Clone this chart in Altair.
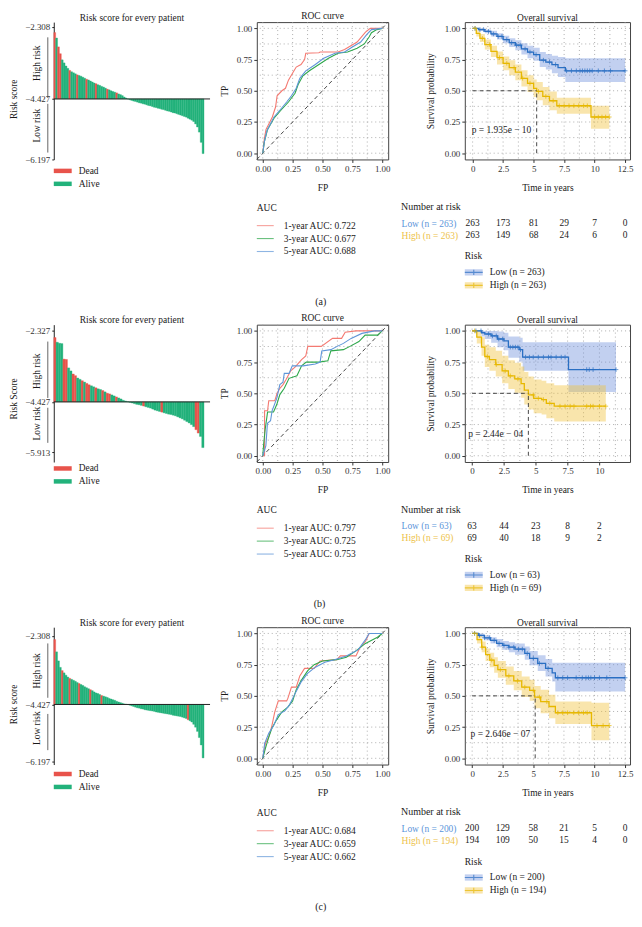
import altair as alt
import pandas as pd

# ------------------------------------------------------------------ style
FONT = "Liberation Serif"
TXT = "#1a1a1a"
RED = "#E8534B"
GREEN = "#22B27B"
ROC_COLORS = ["#F47A72", "#2EA84B", "#5F96D8"]
BLUE = "#2A6FC3"
GOLD = "#E7B800"
BLUE_BAND = "#6E8EDC"
GOLD_BAND = "#F0C23A"
LOW_TXT = "#5B95DA"
HIGH_TXT = "#EDC24A"
FS = 9.5

W1, W2, W3 = 157, 132, 166
H = 138
L1, L2, L3 = 46, 38, 64

GRID01 = [0, 0.125, 0.25, 0.375, 0.5, 0.625, 0.75, 0.875, 1.0]
SURV_XGRID = [0, 1.25, 2.5, 3.75, 5, 6.25, 7.5, 8.75, 10, 11.25, 12.5]
PROB_TICKS = [0, 0.25, 0.5, 0.75, 1.0]

# ------------------------------------------------------------------ data (a)
risk_a = [-2.48, -2.64, -2.90, -3.10, -3.28, -3.37, -3.46, -3.53, -3.59, -3.63,
          -3.66, -3.69, -3.72, -3.74, -3.76, -3.79, -3.82, -3.85, -3.87, -3.90,
          -3.93, -3.96, -3.98, -4.01, -4.03, -4.06, -4.08, -4.11, -4.14, -4.16,
          -4.19, -4.21, -4.23, -4.25, -4.28, -4.30, -4.33, -4.37, -4.40, -4.43,
          -4.45, -4.47, -4.49, -4.50, -4.52, -4.54, -4.55, -4.57, -4.58, -4.60,
          -4.62, -4.63, -4.65, -4.67, -4.68, -4.70, -4.71, -4.73, -4.74, -4.76,
          -4.78, -4.79, -4.81, -4.83, -4.84, -4.86, -4.88, -4.90, -4.92, -4.94,
          -4.96, -4.99, -5.02, -5.05, -5.09, -5.16, -5.25, -5.40, -5.70, -6.03]
dead_a = [0, 2, 3, 8, 12, 17, 22, 28, 33]
risk_ticks_a = [-2.308, -4.427, -6.197]

roc_a = [
    ([0, 0.013, 0.027, 0.054, 0.08, 0.107, 0.12, 0.16, 0.19, 0.215, 0.255, 0.28, 0.32, 0.35, 0.36, 0.47, 0.48, 0.63, 0.685, 0.79, 0.86, 0.90, 1.0],
     [0, 0.115, 0.19, 0.24, 0.29, 0.37, 0.46, 0.50, 0.52, 0.585, 0.65, 0.69, 0.71, 0.75, 0.80, 0.805, 0.81, 0.81, 0.83, 0.89, 0.97, 1.0, 1.0]),
    ([0, 0.013, 0.04, 0.094, 0.148, 0.215, 0.27, 0.296, 0.336, 0.39, 0.47, 0.55, 0.63, 0.71, 0.79, 0.85, 0.89, 0.91, 0.955, 1.0],
     [0, 0.09, 0.19, 0.28, 0.34, 0.41, 0.48, 0.55, 0.62, 0.66, 0.71, 0.76, 0.80, 0.81, 0.84, 0.875, 0.93, 0.965, 0.99, 1.0]),
    ([0, 0.013, 0.035, 0.094, 0.148, 0.20, 0.24, 0.28, 0.31, 0.36, 0.44, 0.51, 0.605, 0.685, 0.75, 0.82, 0.87, 0.91, 1.0],
     [0, 0.09, 0.18, 0.29, 0.35, 0.41, 0.46, 0.52, 0.60, 0.66, 0.71, 0.76, 0.80, 0.81, 0.85, 0.89, 0.95, 0.99, 1.0]),
]
auc_a = [0.722, 0.677, 0.688]

km_a_low = dict(
    t=[0, 0.5, 1.0, 1.5, 2.0, 2.5, 3.0, 3.5, 4.0, 4.5, 5.0, 5.5, 6.0, 6.5, 7.0, 7.6, 12.5],
    s=[1.0, 0.99, 0.975, 0.955, 0.935, 0.91, 0.885, 0.865, 0.835, 0.81, 0.79, 0.745, 0.73, 0.71, 0.685, 0.66, 0.66],
    lo=[1.0, 0.98, 0.96, 0.935, 0.91, 0.88, 0.85, 0.825, 0.79, 0.76, 0.74, 0.69, 0.67, 0.64, 0.61, 0.57, 0.57],
    hi=[1.0, 1.0, 0.99, 0.98, 0.96, 0.94, 0.92, 0.905, 0.88, 0.86, 0.845, 0.81, 0.795, 0.78, 0.77, 0.76, 0.76],
    cens=[0.2, 0.6, 0.9, 1.3, 1.7, 2.1, 2.4, 2.8, 3.2, 3.6, 3.9, 4.3, 4.7, 5.2, 5.8, 6.3, 6.8, 7.7, 8.1,
          8.5, 8.8, 9.0, 9.2, 9.4, 9.6, 9.8, 10.3, 10.8, 11.3, 12.5],
)
km_a_high = dict(
    t=[0, 0.3, 0.6, 1.0, 1.5, 2.0, 2.5, 3.0, 3.5, 4.0, 4.5, 5.0, 5.25, 5.75, 6.3, 6.9, 9.7, 11.2],
    s=[1.0, 0.96, 0.92, 0.87, 0.815, 0.765, 0.72, 0.685, 0.65, 0.60, 0.56, 0.52, 0.495, 0.455, 0.42, 0.38, 0.29, 0.29],
    lo=[1.0, 0.935, 0.89, 0.83, 0.77, 0.71, 0.665, 0.625, 0.585, 0.535, 0.49, 0.45, 0.425, 0.385, 0.345, 0.315, 0.195, 0.195],
    hi=[1.0, 0.985, 0.955, 0.91, 0.86, 0.815, 0.775, 0.745, 0.71, 0.665, 0.625, 0.59, 0.57, 0.53, 0.495, 0.445, 0.38, 0.38],
    cens=[0.2, 0.8, 1.4, 2.2, 2.8, 3.4, 4.1, 4.7, 5.4, 6.0, 6.6, 7.1, 7.5, 7.9, 8.3, 8.7, 9.1, 9.4,
          10.0, 10.3, 10.6, 10.9, 11.2],
)
risk_times_a = [0, 2.5, 5, 7.5, 10, 12.5]
at_risk_a_low = [263, 173, 81, 29, 7, 0]
at_risk_a_high = [263, 149, 68, 24, 6, 0]
n_a = (263, 263)

# ------------------------------------------------------------------ data (b)
risk_b = [-2.52, -2.66, -2.69, -2.70, -3.16, -3.17, -3.42, -3.51, -3.60, -3.65,
          -3.72, -3.76, -3.80, -3.84, -3.88, -3.92, -3.95, -3.98, -4.01, -4.04,
          -4.06, -4.09, -4.13, -4.17, -4.19, -4.22, -4.25, -4.28, -4.31, -4.34,
          -4.38, -4.40, -4.42, -4.44, -4.46, -4.48, -4.50, -4.51, -4.53, -4.55,
          -4.57, -4.59, -4.61, -4.64, -4.67, -4.69, -4.71, -4.73, -4.75, -4.77,
          -4.79, -4.80, -4.82, -4.84, -4.87, -4.90, -4.93, -4.97, -5.01, -5.05,
          -5.10, -5.16, -5.25, -5.35, -5.45, -5.78]
dead_b = [0, 4, 5, 8, 9, 12, 14, 15, 18, 21, 23, 24, 27, 39, 47, 62, 63]
risk_ticks_b = [-2.327, -4.427, -5.913]

roc_b = [
    ([0, 0.015, 0.015, 0.04, 0.05, 0.10, 0.12, 0.143, 0.17, 0.195, 0.234, 0.27, 0.325, 0.36, 0.377, 0.49, 0.584, 0.66, 0.69, 0.78, 1.0],
     [0, 0.0, 0.36, 0.36, 0.44, 0.44, 0.50, 0.54, 0.57, 0.61, 0.68, 0.71, 0.77, 0.80, 0.876, 0.876, 0.94, 0.94, 0.99, 1.0, 1.0]),
    ([0, 0.008, 0.02, 0.04, 0.09, 0.117, 0.143, 0.18, 0.22, 0.286, 0.325, 0.364, 0.47, 0.545, 0.57, 0.675, 0.73, 0.805, 0.857, 0.96, 1.0],
     [0, 0.10, 0.21, 0.35, 0.35, 0.41, 0.49, 0.54, 0.62, 0.64, 0.72, 0.75, 0.75, 0.76, 0.84, 0.85, 0.876, 0.915, 0.966, 0.966, 1.0]),
    ([0, 0.026, 0.039, 0.065, 0.078, 0.117, 0.143, 0.169, 0.18, 0.22, 0.247, 0.338, 0.44, 0.48, 0.494, 0.57, 0.623, 0.675, 0.74, 0.83, 0.935, 1.0],
     [0, 0.08, 0.26, 0.28, 0.36, 0.46, 0.57, 0.59, 0.66, 0.66, 0.72, 0.72, 0.735, 0.75, 0.84, 0.85, 0.876, 0.90, 0.94, 0.98, 1.0, 1.0]),
]
auc_b = [0.797, 0.725, 0.753]

km_b_low = dict(
    t=[0, 0.75, 1.0, 1.5, 2.0, 2.5, 2.85, 3.7, 3.97, 7.57, 11.3],
    s=[1.0, 0.985, 0.975, 0.96, 0.935, 0.92, 0.87, 0.85, 0.79, 0.69, 0.69],
    lo=[1.0, 0.955, 0.935, 0.905, 0.87, 0.845, 0.785, 0.755, 0.68, 0.51, 0.51],
    hi=[1.0, 1.0, 1.0, 1.0, 0.995, 0.985, 0.955, 0.945, 0.91, 0.91, 0.91],
    cens=[0.3, 0.7, 1.3, 1.6, 1.9, 2.1, 2.4, 3.0, 3.2, 3.4, 3.6, 3.8, 4.2, 4.5, 4.8, 5.2, 5.6, 6.0,
          6.2, 6.6, 7.0, 7.3, 9.0, 9.2, 9.5, 11.3],
)
km_b_high = dict(
    t=[0, 0.37, 0.74, 1.0, 1.36, 1.86, 2.36, 2.85, 3.35, 3.85, 4.1, 4.42, 4.84, 5.46, 5.83, 6.45, 10.5],
    s=[1.0, 0.95, 0.87, 0.795, 0.77, 0.73, 0.68, 0.64, 0.615, 0.577, 0.526, 0.487, 0.46, 0.45, 0.42, 0.397, 0.397],
    lo=[1.0, 0.90, 0.80, 0.71, 0.68, 0.635, 0.58, 0.535, 0.505, 0.465, 0.41, 0.37, 0.34, 0.33, 0.30, 0.275, 0.275],
    hi=[1.0, 1.0, 0.95, 0.89, 0.87, 0.84, 0.80, 0.765, 0.745, 0.715, 0.67, 0.635, 0.61, 0.60, 0.58, 0.565, 0.565],
    cens=[0.2, 1.2, 1.9, 2.6, 3.0, 3.6, 4.8, 5.2, 5.6, 6.1, 6.9, 7.3, 7.7, 8.0, 9.0, 9.3, 9.5, 10.0, 10.5],
)
risk_times_b = [0, 2.5, 5, 7.5, 10]
at_risk_b_low = [63, 44, 23, 8, 2]
at_risk_b_high = [69, 40, 18, 9, 2]
n_b = (63, 69)

# ------------------------------------------------------------------ data (c)
risk_c = [-2.42, -2.80, -3.08, -3.28, -3.38, -3.45, -3.52, -3.58, -3.62, -3.65,
          -3.68, -3.71, -3.75, -3.78, -3.81, -3.84, -3.88, -3.91, -3.94, -3.97,
          -4.00, -4.04, -4.07, -4.09, -4.12, -4.15, -4.17, -4.19, -4.21, -4.24,
          -4.26, -4.28, -4.30, -4.33, -4.35, -4.37, -4.39, -4.41, -4.42, -4.43,
          -4.45, -4.47, -4.49, -4.51, -4.53, -4.54, -4.56, -4.57, -4.59, -4.60,
          -4.61, -4.62, -4.63, -4.64, -4.66, -4.67, -4.68, -4.69, -4.70, -4.71,
          -4.72, -4.73, -4.74, -4.76, -4.77, -4.78, -4.79, -4.80, -4.82, -4.84,
          -4.86, -4.90, -4.93, -4.97, -5.04, -5.13, -5.26, -5.45, -5.68, -6.08]
dead_c = [0, 4, 8, 13, 19, 25, 71]
risk_ticks_c = [-2.308, -4.427, -6.197]

roc_c = [
    ([0, 0.022, 0.05, 0.076, 0.10, 0.13, 0.20, 0.21, 0.24, 0.28, 0.31, 0.35, 0.43, 0.48, 0.62, 0.65, 0.78, 0.81, 0.86, 0.89, 1.0],
     [0, 0.12, 0.17, 0.26, 0.37, 0.46, 0.46, 0.48, 0.57, 0.57, 0.66, 0.72, 0.72, 0.78, 0.79, 0.82, 0.82, 0.88, 0.935, 1.0, 1.0]),
    ([0, 0.022, 0.05, 0.076, 0.117, 0.158, 0.21, 0.25, 0.28, 0.32, 0.375, 0.43, 0.50, 0.62, 0.70, 0.78, 0.86, 0.92, 0.96, 1.0],
     [0, 0.08, 0.17, 0.24, 0.31, 0.37, 0.41, 0.46, 0.55, 0.62, 0.70, 0.75, 0.78, 0.79, 0.81, 0.86, 0.92, 0.95, 0.97, 1.0]),
    ([0, 0.016, 0.05, 0.09, 0.13, 0.185, 0.225, 0.266, 0.32, 0.375, 0.44, 0.52, 0.60, 0.70, 0.80, 0.86, 0.89, 1.0],
     [0, 0.12, 0.20, 0.26, 0.35, 0.38, 0.43, 0.51, 0.61, 0.68, 0.73, 0.77, 0.79, 0.82, 0.87, 0.95, 1.0, 1.0]),
]
auc_c = [0.684, 0.659, 0.662]

km_c_low = dict(
    t=[0, 0.5, 1.0, 1.5, 2.0, 2.5, 3.0, 3.5, 4.3, 4.7, 5.36, 6.0, 6.54, 6.8, 12.5],
    s=[1.0, 0.985, 0.965, 0.945, 0.92, 0.905, 0.89, 0.875, 0.84, 0.80, 0.76, 0.72, 0.685, 0.645, 0.645],
    lo=[1.0, 0.97, 0.945, 0.92, 0.89, 0.87, 0.85, 0.83, 0.79, 0.745, 0.70, 0.655, 0.615, 0.535, 0.535],
    hi=[1.0, 1.0, 0.985, 0.97, 0.955, 0.94, 0.93, 0.92, 0.895, 0.86, 0.825, 0.795, 0.765, 0.765, 0.765],
    cens=[0.2, 0.6, 1.0, 1.4, 1.8, 2.2, 2.6, 3.0, 3.4, 3.8, 4.1, 4.5, 5.0, 5.5, 6.2, 7.0, 7.4, 7.8,
          8.5, 9.0, 9.3, 9.5, 9.7, 10.0, 10.4, 11.0, 12.5],
)
km_c_high = dict(
    t=[0, 0.4, 0.78, 1.1, 1.44, 1.8, 2.1, 2.75, 3.4, 4.05, 4.7, 5.1, 5.6, 6.28, 6.8, 9.75, 11.2],
    s=[1.0, 0.95, 0.89, 0.83, 0.787, 0.745, 0.71, 0.66, 0.62, 0.57, 0.544, 0.49, 0.454, 0.415, 0.365, 0.262, 0.262],
    lo=[1.0, 0.92, 0.85, 0.78, 0.73, 0.685, 0.645, 0.59, 0.545, 0.49, 0.46, 0.40, 0.36, 0.32, 0.275, 0.145, 0.145],
    hi=[1.0, 0.98, 0.935, 0.88, 0.845, 0.81, 0.78, 0.735, 0.70, 0.655, 0.63, 0.58, 0.55, 0.51, 0.455, 0.445, 0.445],
    cens=[0.2, 0.8, 1.6, 2.3, 3.0, 3.7, 4.3, 5.0, 5.5, 6.1, 7.0, 7.4, 7.8, 8.3, 8.7, 9.1, 9.4,
          10.2, 10.7, 11.2],
)
risk_times_c = [0, 2.5, 5, 7.5, 10, 12.5]
at_risk_c_low = [200, 129, 58, 21, 5, 0]
at_risk_c_high = [194, 109, 50, 15, 4, 0]
n_c = (200, 194)


# ------------------------------------------------------------------ helpers
def spacer(x):
    return alt.Chart(pd.DataFrame({"s": [0]})).mark_rect(opacity=0).encode(
        x=alt.value(x), x2=alt.value(x + 1), y=alt.value(0), y2=alt.value(1))


def step_at(ts, ss, c):
    val = ss[0]
    for t, s in zip(ts, ss):
        if t <= c:
            val = s
    return val


def risk_panel(values, dead, cutoff, ticks, ydom, ylabel, title_y, brackets, mids):
    n = len(values)
    df = pd.DataFrame({
        "i0": list(range(n)), "i1": [k + 1 for k in range(n)], "v": values,
        "base": [cutoff] * n, "c": [RED if k in dead else GREEN for k in range(n)],
    })
    xs = alt.Scale(domain=[0, n * 1.04], nice=False, zero=False)
    ys = alt.Scale(domain=ydom, nice=False, zero=False)
    yaxis = alt.Axis(values=ticks, format=".3f", title=ylabel, titleY=title_y, titlePadding=6,
                     tickSize=2, labelPadding=2, grid=False, domainColor="#222", tickColor="#222")
    bars = alt.Chart(df).mark_rect(strokeWidth=0.35).encode(
        x=alt.X("i0:Q", scale=xs, axis=None), x2="i1:Q",
        y=alt.Y("v:Q", scale=ys, axis=yaxis), y2="base:Q",
        color=alt.Color("c:N", scale=None), stroke=alt.Stroke("c:N", scale=None))
    base_rule = alt.Chart(pd.DataFrame({"v": [cutoff]})).mark_rule(color="#222", strokeWidth=1).encode(
        y=alt.Y("v:Q", scale=ys, axis=yaxis))
    br = pd.DataFrame({"v": [brackets[0][0], brackets[1][0]], "v2": [brackets[0][1], brackets[1][1]]})
    br_rule = alt.Chart(br).mark_rule(color="#555", strokeWidth=0.9).encode(
        x=alt.value(-6), y=alt.Y("v:Q", scale=ys, axis=yaxis), y2="v2:Q")
    lab = pd.DataFrame({"v": mids, "t": ["High risk", "Low risk"]})
    lab_txt = alt.Chart(lab).mark_text(angle=270, fontSize=FS, color=TXT, baseline="middle",
                                       align="center").encode(
        x=alt.value(-17), y=alt.Y("v:Q", scale=ys, axis=yaxis), text="t:N")
    return alt.layer(bars, base_rule, br_rule, lab_txt, spacer(-L1)).properties(
        width=W1, height=H,
        title=alt.TitleParams("Risk score for every patient", anchor="middle", frame="group", offset=0))


def dead_alive_legend():
    labels = ["Dead", "Alive"]
    df = pd.DataFrame({"label": labels, "c": [RED, GREEN]})
    y = alt.Y("label:N", sort=labels, axis=None, scale=alt.Scale(paddingInner=0, paddingOuter=0))
    sym = alt.Chart(df).mark_point(shape="M-1,-0.25H1V0.25H-1Z", filled=True, size=324, opacity=1).encode(
        x=alt.value(9), y=y, color=alt.Color("c:N", scale=None))
    txt = alt.Chart(df).mark_text(align="left", baseline="middle", fontSize=FS, color=TXT).encode(
        x=alt.value(25), y=y, text="label:N")
    return alt.layer(sym, txt, spacer(-L1)).properties(width=W1, height=26)


def roc_panel(curves):
    rows = []
    for k, (fp, tp) in enumerate(curves):
        for j, (a, b) in enumerate(zip(fp, tp)):
            rows.append({"x": a, "y": b, "k": k, "o": j, "c": ROC_COLORS[k]})
    df = pd.DataFrame(rows)
    sc = alt.Scale(domain=[-0.05, 1.05], nice=False, zero=False)
    xaxis = alt.Axis(values=PROB_TICKS, format=".2f", title="FP", tickSize=3, labelPadding=2,
                     titlePadding=9, grid=False, domain=False, labelFlush=False)
    yaxis = alt.Axis(values=PROB_TICKS, format=".2f", title="TP", tickSize=3, labelPadding=2,
                     titlePadding=7, grid=False, domain=False)
    X = lambda f: alt.X(f, scale=sc, axis=xaxis)
    Y = lambda f: alt.Y(f, scale=sc, axis=yaxis)
    gx = pd.DataFrame({"x": GRID01})
    gy = pd.DataFrame({"y": GRID01})
    vgrid = alt.Chart(gx).mark_rule(strokeDash=[1, 3], color="#9a9a9a", strokeWidth=0.8).encode(x=X("x:Q"))
    hgrid = alt.Chart(gy).mark_rule(strokeDash=[1, 3], color="#9a9a9a", strokeWidth=0.8).encode(y=Y("y:Q"))
    diag = alt.Chart(pd.DataFrame({"x": [-0.05, 1.05], "y": [-0.05, 1.05]})).mark_line(
        strokeDash=[4, 3], color="#333", strokeWidth=0.9).encode(x=X("x:Q"), y=Y("y:Q"))
    lines = alt.Chart(df).mark_line(strokeWidth=1.1).encode(
        x=X("x:Q"), y=Y("y:Q"), color=alt.Color("c:N", scale=None), detail="k:N", order="o:Q")
    return alt.layer(vgrid, hgrid, diag, lines, spacer(-L2), spacer(W2 + 3)).properties(
        width=W2, height=H, view=alt.ViewBackground(stroke="#444", strokeWidth=1),
        title=alt.TitleParams("ROC curve", anchor="middle", frame="group", offset=0))


def auc_legend(aucs):
    labels = [f"{yr}-year AUC: {a:.3f}" for yr, a in zip([1, 3, 5], aucs)]
    df = pd.DataFrame({"label": labels, "c": ROC_COLORS})
    y = alt.Y("label:N", sort=labels, axis=None, scale=alt.Scale(paddingInner=0, paddingOuter=0))
    sym = alt.Chart(df).mark_point(shape="M-1,0H1", filled=False, size=289, strokeWidth=1.1).encode(
        x=alt.value(8.5), y=y, color=alt.Color("c:N", scale=None))
    txt = alt.Chart(df).mark_text(align="left", baseline="middle", fontSize=FS, color=TXT).encode(
        x=alt.value(27), y=y, text="label:N")
    return alt.layer(sym, txt, spacer(-L2)).properties(
        width=W2, height=39,
        title=alt.TitleParams("AUC", anchor="start", frame="group", offset=7))


def surv_panel(low, high, xdom, xticks, median, ptext, pxy):
    rows, crows = [], []
    for g, d, lc, bc in [("Low", low, BLUE, BLUE_BAND), ("High", high, GOLD, GOLD_BAND)]:
        for t, s, lo, hi in zip(d["t"], d["s"], d["lo"], d["hi"]):
            rows.append({"g": g, "x": t, "y": s, "lo": lo, "hi": hi, "lc": lc, "bc": bc})
        for c in d["cens"]:
            crows.append({"g": g, "x": c, "y": step_at(d["t"], d["s"], c), "lc": lc})
    df = pd.DataFrame(rows)
    cdf = pd.DataFrame(crows)
    xs = alt.Scale(domain=xdom, nice=False, zero=False)
    ys = alt.Scale(domain=[-0.05, 1.05], nice=False, zero=False)
    xaxis = alt.Axis(values=xticks, labelExpr="'' + datum.value", title="Time in years", tickSize=3,
                     labelPadding=2, titlePadding=9, grid=False, domain=False, labelFlush=False)
    yaxis = alt.Axis(values=PROB_TICKS, format=".2f", title="Survival probability", tickSize=3,
                     labelPadding=2, titlePadding=9, grid=False, domain=False)
    X = lambda f: alt.X(f, scale=xs, axis=xaxis)
    Y = lambda f: alt.Y(f, scale=ys, axis=yaxis)
    vgrid = alt.Chart(pd.DataFrame({"x": SURV_XGRID})).mark_rule(
        clip=True, strokeDash=[1, 3], color="#9a9a9a", strokeWidth=0.8).encode(x=X("x:Q"))
    hgrid = alt.Chart(pd.DataFrame({"y": GRID01})).mark_rule(
        strokeDash=[1, 3], color="#9a9a9a", strokeWidth=0.8).encode(y=Y("y:Q"))
    band = alt.Chart(df).mark_area(interpolate="step-after", opacity=0.42).encode(
        x=X("x:Q"), y=Y("lo:Q"), y2="hi:Q", color=alt.Color("bc:N", scale=None), detail="g:N")
    lines = alt.Chart(df).mark_line(interpolate="step-after", strokeWidth=1.3).encode(
        x=X("x:Q"), y=Y("y:Q"), color=alt.Color("lc:N", scale=None), detail="g:N")
    cens = alt.Chart(cdf).mark_point(shape="M-1,0H1M0,-1V1", size=22, filled=False, strokeWidth=1).encode(
        x=X("x:Q"), y=Y("y:Q"), color=alt.Color("lc:N", scale=None))
    med_h = alt.Chart(pd.DataFrame({"x": [0], "x1": [median], "y": [0.5]})).mark_rule(
        strokeDash=[4, 3], color="#333", strokeWidth=0.9).encode(x=X("x:Q"), x2="x1:Q", y=Y("y:Q"))
    med_v = alt.Chart(pd.DataFrame({"x": [median], "y": [0], "y1": [0.5]})).mark_rule(
        strokeDash=[4, 3], color="#333", strokeWidth=0.9).encode(x=X("x:Q"), y=Y("y:Q"), y2="y1:Q")
    ptxt = alt.Chart(pd.DataFrame({"x": [pxy[0]], "y": [pxy[1]], "t": [ptext]})).mark_text(
        align="left", baseline="middle", fontSize=FS, color=TXT).encode(x=X("x:Q"), y=Y("y:Q"), text="t:N")
    return alt.layer(vgrid, hgrid, band, lines, cens, med_h, med_v, ptxt, spacer(-L3)).properties(
        width=W3, height=H, view=alt.ViewBackground(stroke="#444", strokeWidth=1),
        title=alt.TitleParams("Overall survival", anchor="middle", frame="group", offset=0))


def table_panel(ns, times, low_n, high_n, xdom):
    low_label = f"Low (n = {ns[0]})"
    high_label = f"High (n = {ns[1]})"
    rows = [{"g": low_label, "t": t, "n": v} for t, v in zip(times, low_n)]
    rows += [{"g": high_label, "t": t, "n": v} for t, v in zip(times, high_n)]
    df = pd.DataFrame(rows)
    yaxis = alt.Axis(title=None, domain=False, ticks=False, labelPadding=L3, labelAlign="left",
                     labelFontSize=FS,
                     labelColor={"condition": {"test": f"datum.value === '{low_label}'", "value": LOW_TXT},
                                 "value": HIGH_TXT})
    txt = alt.Chart(df).mark_text(fontSize=FS, color=TXT, baseline="middle").encode(
        x=alt.X("t:Q", scale=alt.Scale(domain=xdom, nice=False, zero=False), axis=None),
        y=alt.Y("g:N", sort=[low_label, high_label], axis=yaxis,
                scale=alt.Scale(paddingInner=0, paddingOuter=0)),
        text="n:Q")
    return alt.layer(txt, spacer(-L3)).properties(
        width=W3, height=24,
        title=alt.TitleParams("Number at risk", anchor="start", offset=5, fontSize=10))


def risk_legend(ns):
    labels = [f"Low (n = {ns[0]})", f"High (n = {ns[1]})"]
    df = pd.DataFrame({"label": labels, "lc": [BLUE, GOLD], "bc": [BLUE_BAND, GOLD_BAND]})
    y = alt.Y("label:N", sort=labels, axis=None, scale=alt.Scale(paddingInner=0, paddingOuter=0))
    band = alt.Chart(df).mark_point(shape="M-1,-0.35H1V0.35H-1Z", filled=True, size=324, opacity=0.42).encode(
        x=alt.value(9), y=y, color=alt.Color("bc:N", scale=None))
    line = alt.Chart(df).mark_point(shape="M-1,0H1M0,-0.3V0.3", filled=False, size=324, strokeWidth=1.1).encode(
        x=alt.value(9), y=y, color=alt.Color("lc:N", scale=None))
    txt = alt.Chart(df).mark_text(align="left", baseline="middle", fontSize=FS, color=TXT).encode(
        x=alt.value(25), y=y, text="label:N")
    return alt.layer(band, line, txt, spacer(-L3)).properties(
        width=W3, height=26,
        title=alt.TitleParams("Risk", anchor="start", frame="group", offset=5))


def make_row(caption, risk, dead, ticks, ydom, ylabel, title_y, brackets, mids,
             roc, aucs, low, high, xdom, xticks, median, ptext, pxy, ns, times, low_n, high_n):
    col1 = alt.vconcat(
        risk_panel(risk, dead, -4.427, ticks, ydom, ylabel, title_y, brackets, mids),
        dead_alive_legend(), spacing=0)
    col2 = alt.vconcat(roc_panel(roc), auc_legend(aucs), spacing=10)
    col3 = alt.vconcat(
        surv_panel(low, high, xdom, xticks, median, ptext, pxy),
        table_panel(ns, times, low_n, high_n, xdom),
        risk_legend(ns), spacing=10)
    return alt.hconcat(col1, col2, col3, spacing=7).properties(
        title=alt.TitleParams(caption, orient="bottom", anchor="middle", fontSize=10, offset=5))


row_a = make_row("(a)", risk_a, dead_a, risk_ticks_a, [-6.202, -2.173], "Risk score", 77,
                 [(-2.62, -4.40), (-4.57, -6.00)], [-3.38, -5.21],
                 roc_a, auc_a, km_a_low, km_a_high, [-0.64, 12.9], risk_times_a, 5.25,
                 "p = 1.935e \u2212 10", (-0.08, 0.186), n_a, risk_times_a, at_risk_a_low, at_risk_a_high)
row_b = make_row("(b)", risk_b, dead_b, risk_ticks_b, [-6.207, -2.139], "Risk Score", 74,
                 [(-2.64, -4.31), (-4.60, -5.64)], [-3.52, -5.07],
                 roc_b, auc_b, km_b_low, km_b_high, [-0.57, 12.4], risk_times_b, 4.42,
                 "p = 2.44e \u2212 04", (-0.3, 0.174), n_b, risk_times_b, at_risk_b_low, at_risk_b_high)
row_c = make_row("(c)", risk_c, dead_c, risk_ticks_c, [-6.285, -2.038], "Risk score", 77,
                 [(-2.54, -4.22), (-4.72, -5.84)], [-3.39, -5.16],
                 roc_c, auc_c, km_c_low, km_c_high, [-0.6, 12.9], risk_times_c, 5.15,
                 "p = 2.646e \u2212 07", (-0.13, 0.192), n_c, risk_times_c, at_risk_c_low, at_risk_c_high)

chart = alt.vconcat(row_a, row_b, row_c, spacing=6).properties(padding=0).configure_view(
    strokeWidth=0
).configure_axis(
    labelFont=FONT, titleFont=FONT, titleFontWeight="normal", labelColor="#333", titleColor=TXT,
    tickColor="#333", labelFontSize=9, titleFontSize=FS
).configure_title(
    font=FONT, fontWeight="normal", fontSize=FS, color=TXT
).configure_text(font=FONT)

chart.save("out.html", embed_options={"renderer": "svg", "actions": False})
